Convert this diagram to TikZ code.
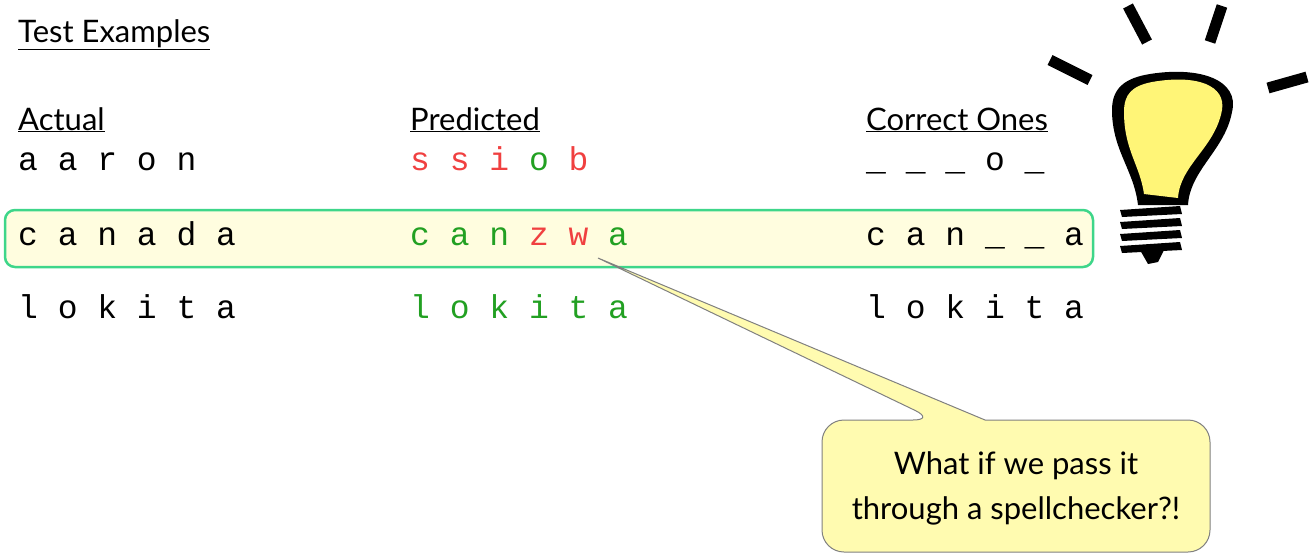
\documentclass[tikz,border=0pt]{standalone}
\usepackage{fontspec}
\setmainfont{Lato}
\setmonofont{Liberation Mono}
\usepackage{tikz}
\usetikzlibrary{positioning}
\definecolor{okgreen}{HTML}{22A022}
\definecolor{badred}{HTML}{F04040}
\definecolor{boxgreen}{HTML}{3ED68A}
\definecolor{paleyellow}{HTML}{FFFDDF}
\definecolor{callyellow}{HTML}{FFFBB0}
\definecolor{bulbyellow}{HTML}{FFF577}
\tikzstyle{heading} = [anchor=base west, inner sep=0pt, font=\fontsize{31}{33}\selectfont]
\tikzstyle{word} = [anchor=base west, inner sep=0pt, font=\ttfamily\fontsize{33}{35}\selectfont]
\tikzstyle{ray} = [line width=11pt]
\newcommand{\ul}[1]{\underline{#1}}
\newcommand{\G}[1]{\textcolor{okgreen}{#1}}
\newcommand{\R}[1]{\textcolor{badred}{#1}}

\begin{document}
\begin{tikzpicture}[x=1pt,y=-1pt]
\useasboundingbox (0,0) rectangle (1310,557);
% highlighted row
\draw[boxgreen, line width=2.5pt, fill=paleyellow, rounded corners=10pt] (5,210) rectangle (1093,267);
% titles
\node[heading] (title) at (18,42) {\ul{Test Examples}};
\node[heading] (actual) at (18,130) {\ul{Actual}};
\node[heading] (predicted) at (410,130) {\ul{Predicted}};
\node[heading] (correct) at (866,130) {\ul{Correct Ones}};
% rows
\node[word] (a1) at (18,170) {a a r o n};
\node[word] (p1) at (410,170) {\R{s s i} \G{o} \R{b}};
\node[word] (c1) at (866,170) {\_ \_ \_ o \_};
\node[word] (a2) at (18,245) {c a n a d a};
\node[word] (p2) at (410,245) {\G{c a n} \R{z w} \G{a}};
\node[word] (c2) at (866,245) {c a n \_ \_ a};
\node[word] (a3) at (18,318) {l o k i t a};
\node[word] (p3) at (410,318) {\G{l o k i t a}};
\node[word] (c3) at (866,318) {l o k i t a};
% callout
\coordinate (tip) at (598,258);
\draw[gray, line width=1pt, fill=callyellow, rounded corners=22pt]
  (822,420) -- (935,420) [sharp corners] -- (tip) -- (985,420) [rounded corners=22pt]
  -- (1210,420) -- (1210,552) -- (822,552) -- cycle;
\node[align=center, font=\fontsize{31}{45}\selectfont] (note) at (1016,488)
  {What if we pass it\\ through a spellchecker?!};
% light bulb
\draw[ray] (1128,6) -- (1147,42);
\draw[ray] (1222,6) -- (1210,42);
\draw[ray] (1050,60) -- (1090,80);
\draw[ray] (1268,88) -- (1307,77);
\fill[black] (1150,74) .. controls (1200,66) and (1240,80) .. (1232,112)
  .. controls (1225,150) and (1190,170) .. (1188,205)
  -- (1138,205) .. controls (1134,170) and (1112,150) .. (1112,110)
  .. controls (1112,88) and (1125,78) .. (1150,74) -- cycle;
\fill[bulbyellow] (1152,82) .. controls (1198,74) and (1226,86) .. (1222,110)
  .. controls (1215,148) and (1180,165) .. (1178,198)
  -- (1144,194) .. controls (1140,165) and (1124,150) .. (1124,112)
  .. controls (1124,94) and (1132,86) .. (1152,82) -- cycle;
\foreach \y in {210,222,234,246} {
  \fill[black] (1120,\y) -- (1180,\y-4) -- (1182,\y+4) -- (1122,\y+7) -- cycle;
}
\fill[black] (1140,250) -- (1165,248) -- (1158,262) -- (1148,264) -- cycle;
\end{tikzpicture}
\end{document}
